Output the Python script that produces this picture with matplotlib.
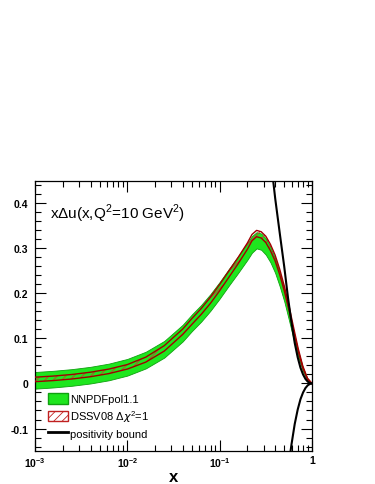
import numpy as np
import matplotlib
matplotlib.use("Agg")
import matplotlib.pyplot as plt
from matplotlib.patches import Patch
from matplotlib.lines import Line2D
from matplotlib.ticker import LogLocator, NullFormatter, MultipleLocator

plt.rcParams['font.family'] = ['Liberation Sans', 'DejaVu Sans']
plt.rcParams['mathtext.fontset'] = 'custom'
plt.rcParams['mathtext.rm'] = 'Liberation Sans'
plt.rcParams['mathtext.bf'] = 'Liberation Sans:bold'
plt.rcParams['hatch.color'] = '#d03030'
plt.rcParams['hatch.linewidth'] = 0.6

# log10(x) grid
logx = [-3.0, -2.8, -2.6, -2.4, -2.2, -2.0, -1.8, -1.6, -1.4, -1.3, -1.2,
        -1.1, -1.0, -0.9, -0.8, -0.7, -0.65, -0.6, -0.55, -0.5, -0.45, -0.4,
        -0.35, -0.3, -0.25, -0.2, -0.15, -0.1, -0.05, 0.0]

# NNPDFpol1.1 central value and half-width
nn_c = [0.007, 0.0097, 0.0134, 0.0185, 0.0256, 0.036, 0.052, 0.076, 0.112,
        0.135, 0.156, 0.180, 0.207, 0.236, 0.264, 0.293, 0.309, 0.318, 0.315,
        0.304, 0.286, 0.262, 0.231, 0.195, 0.152, 0.108, 0.066, 0.032, 0.009,
        0.0]
nn_e = [0.0185, 0.0185, 0.0185, 0.0185, 0.0185, 0.0185, 0.0185, 0.0185,
        0.0185, 0.0185, 0.0185, 0.0185, 0.0185, 0.0185, 0.0185, 0.0185,
        0.0185, 0.018, 0.018, 0.018, 0.017, 0.016, 0.015, 0.013, 0.011,
        0.009, 0.006, 0.004, 0.002, 0.0]

# DSSV08 central value and half-width
ds_c = [0.009, 0.0115, 0.015, 0.020, 0.027, 0.037, 0.053, 0.078, 0.115,
        0.138, 0.160, 0.185, 0.213, 0.243, 0.273, 0.305, 0.324, 0.333, 0.330,
        0.320, 0.302, 0.279, 0.248, 0.211, 0.168, 0.121, 0.075, 0.037, 0.011,
        0.0]
ds_e = [0.005, 0.005, 0.005, 0.005, 0.005, 0.005, 0.0055, 0.006, 0.006,
        0.0065, 0.0065, 0.007, 0.007, 0.007, 0.007, 0.007, 0.007, 0.007,
        0.007, 0.007, 0.007, 0.0065, 0.006, 0.0055, 0.005, 0.004, 0.003,
        0.002, 0.001, 0.0]

# positivity bound
xb = [0.33, 0.35, 0.38, 0.4, 0.45, 0.5, 0.55, 0.6, 0.65, 0.7, 0.75, 0.8,
      0.85, 0.9, 0.95, 1.0]
bound = [0.57, 0.52, 0.45, 0.41, 0.33, 0.26, 0.19, 0.135, 0.09, 0.058,
         0.035, 0.020, 0.010, 0.004, 0.001, 0.0]

x = 10.0 ** np.array(logx)
nn_c, nn_e = np.array(nn_c), np.array(nn_e)
ds_c, ds_e = np.array(ds_c), np.array(ds_e)
xb, bound = np.array(xb), np.array(bound)

fig = plt.figure(figsize=(3.75, 4.85), dpi=100)
ax = fig.add_axes([0.0933, 0.068, 0.7387, 0.557])

ax.fill_between(x, nn_c - nn_e, nn_c + nn_e, facecolor='#1ee61e',
                edgecolor='#10a010', lw=0.6, zorder=2)
ax.fill_between(x, ds_c - ds_e, ds_c + ds_e, facecolor='none',
                edgecolor='#d03030', hatch='////', lw=0, zorder=3)
ax.plot(x, ds_c + ds_e, color='#a00000', lw=1.0, zorder=4)
ax.plot(x, ds_c - ds_e, color='#a00000', lw=1.0, zorder=4)
ax.plot(xb, bound, color='black', lw=1.5, zorder=5)
ax.plot(xb, -bound, color='black', lw=1.5, zorder=5)

ax.set_xscale('log')
ax.set_xlim(1e-3, 1)
ax.set_ylim(-0.15, 0.45)

ax.set_xticks([1e-3, 1e-2, 1e-1, 1])
ax.set_xticklabels([r'$\mathbf{10^{-3}}$', r'$\mathbf{10^{-2}}$',
                    r'$\mathbf{10^{-1}}$', '1'])
ax.xaxis.set_minor_locator(LogLocator(base=10, subs=np.arange(2, 10)))
ax.xaxis.set_minor_formatter(NullFormatter())
ax.set_yticks([-0.1, 0, 0.1, 0.2, 0.3, 0.4])
ax.set_yticklabels(['-0.1', '0', '0.1', '0.2', '0.3', '0.4'])
ax.yaxis.set_minor_locator(MultipleLocator(0.02))

for lab in ax.get_xticklabels() + ax.get_yticklabels():
    lab.set_fontweight('bold')
    lab.set_fontsize(7.5)

ax.tick_params(which='both', direction='in', top=True, right=True, width=0.8)
ax.tick_params(which='major', length=8)
ax.tick_params(which='minor', length=4)
ax.tick_params(axis='x', pad=3)
ax.tick_params(axis='y', pad=5)
for s in ax.spines.values():
    s.set_linewidth(0.9)

ax.set_xlabel('x', fontsize=12, fontweight='bold', labelpad=0)

ax.text(0.055, 0.88, r'x$\Delta$u(x,Q$^2$=10 GeV$^2$)', transform=ax.transAxes,
        fontsize=11, va='center', ha='left')

handles = [Patch(facecolor='#1ee61e', edgecolor='#10a010'),
           Patch(facecolor='white', edgecolor='#c02020', hatch='////'),
           Line2D([], [], color='black', lw=2)]
labels = ['NNPDFpol1.1', r'DSSV08 $\Delta\chi^2$=1', 'positivity bound']
ax.legend(handles, labels, loc='lower left', bbox_to_anchor=(0.047, 0.045),
          frameon=False, fontsize=8, handlelength=1.8, handleheight=1.08,
          handletextpad=0.2, labelspacing=0.35, borderaxespad=0, borderpad=0)

fig.savefig('out.png', dpi=100)
